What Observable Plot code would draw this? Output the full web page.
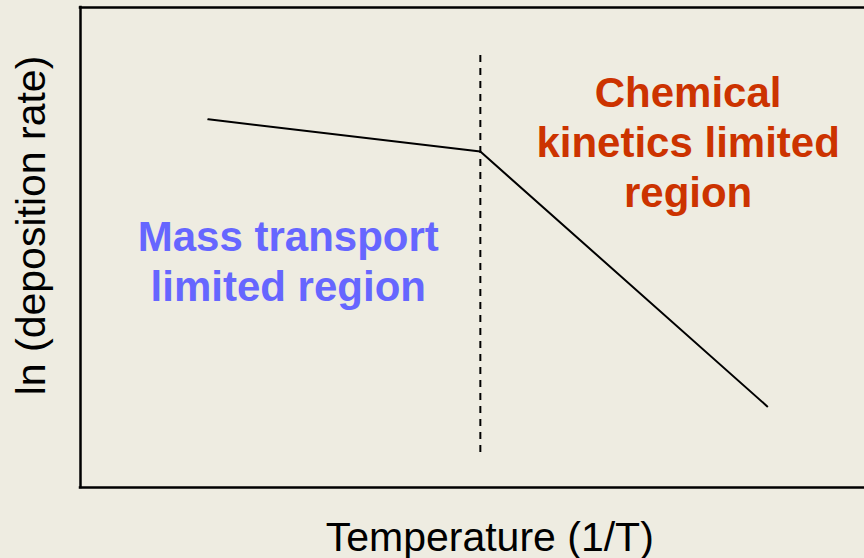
<!DOCTYPE html>
<html><head><meta charset="utf-8">
<script src="https://cdn.jsdelivr.net/npm/d3@7"></script>
<script src="https://cdn.jsdelivr.net/npm/@observablehq/plot@0.6"></script>
<style>
html,body{margin:0;padding:0;background:#EEECE1;overflow:hidden;}
#chart svg{display:block;}
</style></head><body><div id="chart"></div>
<script>
// Schematic: ln(deposition rate) vs 1/T (arbitrary units 0..100)
const curveX = [16.3, 51.0, 87.6];
const curveY = [76.7, 70.0, 16.9];
const dividerX = [51.0];
const dividerTop = 90.0;
const dividerBottom = 6.7;
const regionLabels = ["Mass transport\nlimited region", "Chemical\nkinetics limited\nregion"];
const regionX = [26.5, 77.5];
const regionY = [38.8, 58.4];
const regionColors = ["#6666FF", "#CC3300"];
const xLabel = "Temperature (1/T)";
const xLabelPos = [52.2];
const yLabel = "ln (deposition rate)";

const curve = curveX.map((x, i) => ({x, y: curveY[i]}));
const regions = regionLabels.map((t, i) => ({t, x: regionX[i], y: regionY[i], c: regionColors[i]}));

const chart = Plot.plot({
  width: 864,
  height: 558,
  marginLeft: 80,
  marginRight: 0,
  marginTop: 7,
  marginBottom: 71,
  x: {domain: [0, 100], axis: null},
  y: {domain: [0, 100], axis: null},
  color: {type: "identity"},
  style: {background: "#EEECE1", fontFamily: "'Liberation Sans', Arial, sans-serif", overflow: "visible"},
  marks: [
    Plot.ruleY([0, 100], {stroke: "#000", strokeWidth: 2.5, strokeLinecap: "square"}),
    Plot.ruleX([0], {stroke: "#000", strokeWidth: 2.5, strokeLinecap: "square"}),
    Plot.ruleX(dividerX, {x: d => d, y1: dividerTop, y2: dividerBottom, stroke: "#000", strokeWidth: 2, strokeDasharray: "7,6"}),
    Plot.line(curve, {x: "x", y: "y", stroke: "#000", strokeWidth: 2}),
    Plot.text(regions, {x: "x", y: "y", text: "t", fill: "c", fontSize: 42, fontWeight: "bold", lineAnchor: "bottom", lineHeight: 1.19, textAnchor: "middle"}),
    Plot.text([xLabel], {x: (d, i) => xLabelPos[i], frameAnchor: "bottom", text: d => d, dy: 63, lineAnchor: "bottom", textAnchor: "middle", fontSize: 41, fill: "#000"}),
    Plot.text([yLabel], {frameAnchor: "left", text: d => d, rotate: -90, dx: -36, dy: -22, lineAnchor: "bottom", textAnchor: "middle", fontSize: 41, fill: "#000"})
  ]
});
document.getElementById("chart").appendChild(chart);
</script>
</body></html>
